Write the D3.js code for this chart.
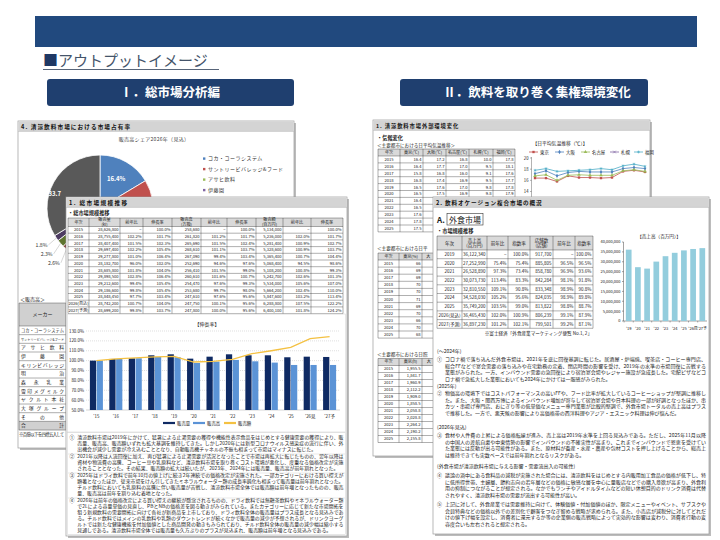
<!DOCTYPE html>
<html lang="ja">
<head>
<meta charset="utf-8">
<title>アウトプットイメージ</title>
<script src="https://cdn.jsdelivr.net/npm/d3@7/dist/d3.min.js"></script>
<style>
  body { margin: 0; background: #fff; }
  svg { display: block; }
  svg text { font-family: "Noto Sans CJK JP", "Noto Sans", sans-serif; }
</style>
</head>
<body>
<svg id="slide" width="720" height="540"></svg>
<script>
// ---------- データ ----------
// 4. 市場占有率（販売高シェア2026年見込）
var makerNames = ['コカ・コーラシステム', 'サントリービバレッジ&フード', 'アサヒ飲料', '伊藤園', 'キリンビバレッジ',
  '明治', '森永乳業', '雪印メグミルク', 'ヤクルト本社', '大塚グループ', 'その他'];
var shareValues = [16.4, 12.5, 8.6, 7.4, 6.9, 4.5, 3.3, 2.6, 2.3, 1.8, 33.7];

// 1. 総市場規模推移
var marketYears = ['2015', '2016', '2017', '2018', '2019', '2020', '2021', '2022', '2023', '2024', '2025', '2026(見込)', '2027(予測)'];
var marketTicks = ["'15", "'16", "'17", "'18", "'19", "'20", "'21", "'22", "'23", "'24", "'25", "'26見", "'27予"];
var volume = [28626800, 28755400, 28407400, 29697400, 29277800, 28182700, 28685800, 29898500, 29212600, 29186600, 28848450, 28742200, 28699200];
var volYoY = [null, 102.2, 101.5, 102.2, 101.0, 96.0, 101.8, 102.8, 99.4, 99.8, 97.7, 100.7, 99.8];
var volIdx = [100.0, 101.7, 102.3, 105.4, 106.4, 102.0, 104.0, 106.4, 105.4, 105.4, 103.4, 104.0, 103.7];
var amount = [258680, 261820, 265690, 268610, 267090, 252690, 256410, 260610, 254470, 253680, 247610, 247750, 247800];
var amtYoY = [null, 101.2, 101.5, 101.1, 99.4, 94.6, 101.5, 101.6, 97.6, 99.7, 97.6, 100.1, 100.0];
var amtIdx = [100.0, 101.7, 102.4, 103.7, 103.4, 97.6, 99.0, 100.7, 99.3, 98.0, 95.6, 95.6, 95.6];
var salesValue = [5134000, 5236000, 5281400, 5328600, 5365400, 5068400, 5108200, 5242700, 5534000, 5664200, 5847600, 6288800, 6400100];
var valYoY = [null, 102.0, 100.9, 100.9, 100.7, 94.5, 100.8, 102.6, 105.6, 102.4, 103.2, 107.5, 101.8];
var valIdx = [100.0, 101.7, 102.7, 103.7, 104.4, 98.6, 99.3, 101.3, 107.0, 110.0, 113.4, 122.2, 124.2];

// 1. 清涼飲料市場外部環境変化（気候）
var climateYears = ['2015', '2016', '2017', '2018', '2019', '2020', '2021', '2022', '2023', '2024', '2025'];
var cities = ['東京', '大阪', '名古屋', '札幌', '福岡'];
var tempTokyo = [16.4, 16.4, 15.8, 16.8, 16.5, 16.5, 16.4, 16.5, 17.6, 17.8, 17.5];
var tempOsaka = [17.2, 17.7, 16.8, 17.4, 17.6, 17.5, 17.5, 17.5, 18.1, 18.3, 18.1];
var tempNagoya = [16.8, 17.0, 16.0, 16.9, 17.0, 16.9, 16.9, 16.9, 17.7, 17.9, 17.6];
var tempSapporo = [10.0, 9.5, 9.1, 9.5, 9.8, 9.8, 10.1, 9.8, 10.9, 10.6, 10.5];
var tempFukuoka = [17.8, 18.1, 17.6, 17.7, 17.8, 17.9, 18.1, 17.9, 18.6, 18.9, 18.5];
var humidTokyo = [66, 69, 69, 70, 70, 71, 69, 70, 66, 70, 68];
var humidOsaka = [63, 66, 64, 65, 64, 66, 65, 64, 62, 65, 63];
var sunTokyo = [1955.5, 1841.7, 1960.9, 2112.2, 1909.0, 1858.5, 2058.8, 2028.8, 2264.2, 2190.2, 2155.8];
var sunOsaka = [2150.1, 2103.4, 2170.2, 2196.5, 2118.3, 2057.6, 2214.9, 2214.8, 2351.3, 2258.7, 2297.1];

// 2. 外食市場
var foodYears = ['2019', '2020', '2021', '2022', '2023', '2024', '2025', '2026(見込)', '2027(予測)'];
var foodTicks = ["'19", "'20", "'21", "'22", "'23", "'24", "'25", "'26見", "'27予"];
var foodSales = [36122340, 27252990, 26528890, 30073730, 32810550, 34528030, 35749200, 36465430, 36897230];
var foodSalesYoY = [null, 75.4, 97.3, 113.4, 109.1, 105.2, 103.5, 102.0, 101.2];
var foodSalesIdx = [100.0, 75.4, 73.4, 83.3, 90.8, 95.6, 99.0, 100.9, 102.1];
var foodStores = [917700, 885805, 858780, 842284, 833348, 824035, 813822, 806239, 799501];
var foodStoresYoY = [null, 96.5, 96.9, 98.1, 98.9, 98.9, 98.8, 99.1, 99.2];
var foodStoresIdx = [100.0, 96.5, 93.6, 91.8, 90.8, 89.8, 88.7, 87.9, 87.1];

// 本文
var marketNotes = [
  '清涼飲料市場は2019年にかけて、猛暑による止渇需要の獲得や機能性表示食品をはじめとする健康需要の獲得により、販売量、販売高、販売額いずれも拡大基調を維持してきた。しかし2020年には新型コロナウイルス感染症の流行に伴い、外出機会が減少し需要が冷え込むこととなり、自動販売機チャネルの不振も相まって市場はマイナスに転じた。',
  '2021年以降は人流回復に加え、再び猛暑による止渇需要が活況となったことで市場は再拡大に転じたものの、翌年以降は資材や物流費の高騰、コーヒー豆や乳原料など、清涼飲料市場を取り巻くコスト環境が悪化し、度重なる価格改定が実施されることとなった。その結果、販売額の拡大は続いたが、2023年、2024年には販売量、販売高が前年割れとなった。',
  '2025年はドライ飲料で前年10月の値上げに続き2年連続での価格改定が実施された。一部カテゴリーにおける買い控えが顕著となったほか、従来市場をけん引してきたミネラルウォーター類の成長率鈍化も相まって販売量は前年割れとなった。チルド飲料においても乳原料の高騰に伴い販売量が苦戦し、清涼飲料市場全体では販売額は前年増となったものの、販売量、販売高は前年を割り込む着地となった。',
  '2026年は前年の価格改定による買い控えの継続が懸念されるものの、ドライ飲料では無糖茶飲料やミネラルウォーター類で2Lによる容量単価の見直し、PBとNBの価格差を図る動きがみられている。またカテゴリーに応じて新たな市場開拓を狙う新規飲料の需要開拓に向けて各社が新商品を上市しており、ドライ飲料全体の販売量はプラス成長となる見込みである。チルド飲料ではメインの乳飲料や乳類のダウントレンドが続くなかで販売量の減少が予想されるが、ドリンクヨーグルトでは新たな健康機能を付加価値とした商品開発の動きもみられており、チルド飲料全体の販売量の減少幅は縮小する見通しである。清涼飲料市場全体では販売量も久方ぶりのプラスが見込まれ、販売額は前年増となる見込みである。'
];
var foodHeads = ['(〜2024年)', '(2025年)', '(2026年見込)', '(外食市場が清涼飲料市場に与える影響・需要流出入の可能性)'];
var foodNotes = [
  'コロナ禍で落ち込んだ外食市場は、2021年を底に回復基調に転じた。居酒屋・炉端焼、喫茶店・コーヒー専門店、総合FFなどで宴会需要の落ち込みや在宅勤務の定着、閉店時間の影響を受け、2019年の水準の市場回復に苦戦する業態がみられた。一方、インバウンド需要の急回復により宿泊宴会場やレジャー施設が急成長した。宅配ピザなどコロナ禍で急拡大した業態においても2024年にかけては一服感がみられた。',
  '物価高の環境下ではコストパフォーマンスの高いFFや、フード比率が拡大しているコーヒーショップが堅調に推移した。また、大阪・関西万博によるインバウンド増加が寄与して宿泊宴会場や日本料理の一部が好調となったほか、串カツ・串揚げ専門店、おにぎり等の低単価なメニュー専門業態が比較的堅調で、外食市場トータルの売上高はプラスで推移した。一方で、悪天候の影響により高価格帯の西洋料理やアジア・エスニック料理は伸び悩んだ。',
  '食材や人件費の上昇による価格転嫁が進み、売上高は2019年水準を上回る見込みである。ただし、2025年11月以降の中国人の渡航自粛や中東情勢の影響でインバウンドの不確実性が高まり、これまでインバウンドで恩恵を受けていた業態には反動が出る可能性がある。また、原材料が畜産・水産・農産や包材コストを押し上げることから、総売上は維持できても実数ベースでは前年割れとなるリスクがある。',
  '議論の渦中にある食料品の減税が実施された場合には、清涼飲料をはじめとする内販用加工食品の価格が低下し、特に低所得世帯、主婦層、節約志向の若年層などの価格に敏感な層を中心に量販店などでの購入意欲が高まり、外食利用の抑制につながることが想定される。なかでもランチやアイドルタイムなどの短い休憩目的のドリンク消費は代替されやすく、清涼飲料市場の需要が流出する可能性が高い。',
  '上記に対して、外食産業では需要維持に向けて、体験価値・付加価値のほか、限定メニューやイベント、サブスクや会員特典などの価格以外での差別化で顧客をつなぎ留める戦略が求められる。また、小売店が減税分に対してどれだけの値下げ幅を設定し、消費者に還元するか等の企業側の販売戦略によって実効的な影響は変わり、消費者行動の変容度合いも左右されると想定される。'
];

// ---------- 描画 ----------
var svg = d3.select('#slide');
var INK = '#222';
var MARKS = ['①', '②', '③', '④', '⑤'];
var fmtInt = d3.format(',');
var fmtPct = function (d) { return d == null ? '−' : d.toFixed(1) + '%'; };

svg.append('rect').attr('width', 720).attr('height', 540).attr('fill', '#fff');
var measurer = svg.append('text').attr('visibility', 'hidden');

function textWidth(str, fs) {
  measurer.attr('font-size', fs).text(str);
  return measurer.node().getComputedTextLength();
}

// 折り返し（簡易禁則つき）
function wrapLines(str, width, fs) {
  var lines = [], cur = '';
  Array.from(str).forEach(function (ch) {
    var over = textWidth(cur + ch, fs) > width;
    if (over && cur && '、。，．）」'.indexOf(ch) < 0) { lines.push(cur); cur = ch; }
    else cur += ch;
  });
  if (cur) lines.push(cur);
  return lines;
}

// 段落：maxLines 行に収まるまで文字を少しずつ小さくする
function paragraph(g, x, y, width, str, fs, lh, mark, maxLines) {
  var indent = mark ? fs * 1.6 : 0;
  var lines = wrapLines(str, width - indent, fs);
  while (maxLines && lines.length > maxLines && fs > 3.5) {
    fs -= 0.1;
    lines = wrapLines(str, width - indent, fs);
  }
  if (mark) g.append('text').attr('x', x).attr('y', y).attr('font-size', fs).attr('fill', INK).text(mark);
  lines.forEach(function (l, i) {
    var t = g.append('text').attr('x', x + indent).attr('y', y + i * lh)
      .attr('font-size', fs).attr('fill', INK).text(l);
    if (i < lines.length - 1) t.attr('textLength', width - indent).attr('lengthAdjust', 'spacing');
  });
  return lines.length;
}

// パネル（影・枠・見出し帯）
function panel(x, y, w, h, title, fs, ls) {
  var g = svg.append('g');
  g.append('rect').attr('x', x + 2).attr('y', y + 2).attr('width', w).attr('height', h).attr('fill', '#bcbcbc');
  g.append('rect').attr('x', x).attr('y', y).attr('width', w).attr('height', h)
    .attr('fill', '#fff').attr('stroke', '#9a9a9a').attr('stroke-width', 0.7);
  g.append('rect').attr('x', x + 0.4).attr('y', y + 0.4).attr('width', w - 0.8).attr('height', 10)
    .attr('fill', '#d4d4d4');
  g.append('line').attr('x1', x).attr('x2', x + w).attr('y1', y + 10.4).attr('y2', y + 10.4)
    .attr('stroke', '#b5b5b5').attr('stroke-width', 0.5);
  g.append('text').attr('x', x + 3).attr('y', y + 7.8)
    .attr('font-size', fs).attr('font-weight', 700).attr('letter-spacing', ls).attr('fill', '#111')
    .text(title);
  return g;
}

// 表
function table(g, cols, top, headH, rowH, head, rows, fs) {
  var left = cols[0], right = cols[cols.length - 1];
  var bottom = top + headH + rowH * rows.length;
  g.append('rect').attr('x', left).attr('y', top).attr('width', right - left).attr('height', headH)
    .attr('fill', '#d9d9d9');
  var grid = g.append('g').attr('stroke', '#1a1a1a').attr('stroke-width', 0.35);
  cols.forEach(function (c) {
    grid.append('line').attr('x1', c).attr('x2', c).attr('y1', top).attr('y2', bottom);
  });
  grid.append('line').attr('x1', left).attr('x2', right).attr('y1', top).attr('y2', top);
  d3.range(rows.length + 1).forEach(function (i) {
    var yy = top + headH + i * rowH;
    grid.append('line').attr('x1', left).attr('x2', right).attr('y1', yy).attr('y2', yy);
  });
  head.forEach(function (h, j) {
    var parts = h.split('\n');
    var cx = (cols[j] + cols[j + 1]) / 2;
    var t = g.append('text').attr('text-anchor', 'middle').attr('font-size', fs).attr('fill', INK);
    parts.forEach(function (p, k) {
      t.append('tspan').attr('x', cx)
        .attr('y', top + headH / 2 + (k - (parts.length - 1) / 2) * fs * 1.1 + fs * 0.36).text(p);
    });
  });
  rows.forEach(function (r, i) {
    var cy = top + headH + i * rowH + rowH / 2 + fs * 0.36;
    r.forEach(function (v, j) {
      if (j >= cols.length - 1) return;
      g.append('text')
        .attr('x', j === 0 ? (cols[0] + cols[1]) / 2 : cols[j + 1] - 1.5)
        .attr('y', cy)
        .attr('text-anchor', j === 0 ? 'middle' : 'end')
        .attr('font-size', fs).attr('fill', INK).text(v);
    });
  });
  return bottom;
}

// ---- 見出し ----
svg.append('rect').attr('x', 35).attr('y', 16).attr('width', 662).attr('height', 31).attr('fill', '#21497e');
var ttl = svg.append('text').attr('x', 43).attr('y', 66).attr('font-size', 15).attr('fill', '#44546a');
ttl.append('tspan').attr('fill', '#1f3864').text('■');
ttl.append('tspan').text('アウトプットイメージ');
svg.append('line').attr('x1', 43).attr('x2', 219).attr('y1', 69.5).attr('y2', 69.5)
  .attr('stroke', '#44546a').attr('stroke-width', 0.9);

[{ x: 47, w: 247, cx: 170, label: 'Ⅰ．総市場分析編' },
 { x: 400, w: 248, cx: 537, label: 'Ⅱ．飲料を取り巻く集権環境変化' }].forEach(function (b) {
  svg.append('rect').attr('x', b.x).attr('y', 79).attr('width', b.w).attr('height', 27).attr('rx', 3)
    .attr('fill', '#1f3f6f');
  svg.append('text').attr('x', b.cx).attr('y', 97).attr('text-anchor', 'middle')
    .attr('font-size', 12.5).attr('font-weight', 700).attr('fill', '#fff').text(b.label);
});

// ---- 4. 市場占有率（背面左） ----
var pp = panel(18, 121, 276, 327, '4. 清涼飲料市場における市場占有率', 5.6, 1.1);
pp.append('text').attr('x', 154).attr('y', 141).attr('text-anchor', 'middle')
  .attr('font-size', 5).attr('fill', '#444').attr('letter-spacing', 0.3).text('販売高シェア2026年（見込）');

var shareColors = ['#4f81bd', '#c0504d', '#9bbb59', '#8064a2', '#4bacc6', '#f79646',
  '#2c4d75', '#772c2a', '#5f7530', '#4d3b62', '#595959'];
var R = 53;
var pieG = pp.append('g').attr('transform', 'translate(100,208)');
var arcs = d3.pie().sort(null).value(function (d) { return d; })(shareValues);
var arc = d3.arc().innerRadius(0).outerRadius(R);
pieG.selectAll('path').data(arcs).join('path')
  .attr('d', arc).attr('fill', function (d, i) { return shareColors[i]; })
  .attr('stroke', '#fff').attr('stroke-width', 0.8);

arcs.forEach(function (d, i) {
  if (d.data < 3) return;
  var mid = (d.startAngle + d.endAngle) / 2;
  var last = i === arcs.length - 1;
  var rr = last ? R * 0.84 : R * 0.62;
  var ang = last ? mid - 0.2 : mid;
  pieG.append('text').attr('x', Math.sin(ang) * rr).attr('y', -Math.cos(ang) * rr + 2)
    .attr('text-anchor', 'middle').attr('font-size', 6).attr('font-weight', 700).attr('fill', '#fff')
    .text(d.data.toFixed(1) + '%');
});
// 小さいスライスは外側ラベル（下から順に重なりを避ける）
var lastY = -Infinity;
arcs.filter(function (d) { return d.data < 3; }).reverse().forEach(function (d) {
  var mid = (d.startAngle + d.endAngle) / 2;
  var px = Math.sin(mid) * R, py = -Math.cos(mid) * R;
  var lx = Math.sin(mid) * (R + 12), ly = -Math.cos(mid) * (R + 12);
  if (ly < lastY + 9) ly = lastY + 9;
  lastY = ly;
  pieG.append('polyline').attr('points', [[px, py], [lx + 2, ly]].join(' '))
    .attr('fill', 'none').attr('stroke', '#999').attr('stroke-width', 0.4);
  pieG.append('text').attr('x', lx + 1).attr('y', ly + 2).attr('text-anchor', 'end')
    .attr('font-size', 5.2).attr('fill', '#333').text(d.data.toFixed(1) + '%');
});

var legG = pp.append('g');
makerNames.forEach(function (n, i) {
  var ly = 160 + i * 10.5;
  legG.append('rect').attr('x', 203).attr('y', ly - 2.6).attr('width', 2.4).attr('height', 2.4)
    .attr('fill', shareColors[i]);
  legG.append('text').attr('x', 208).attr('y', ly).attr('font-size', 5).attr('letter-spacing', 0.5)
    .attr('fill', '#333').text(n);
});

// メーカー別表（左端のみ見える）
pp.append('text').attr('x', 20).attr('y', 301).attr('font-size', 5).attr('fill', INK).text('＜販売高＞');
var mkCols = [19, 66, 100, 130];
var mkTop = 303, mkHeadH = 23, mkRowH = 8.67;
var mkLabels = makerNames.concat(['合計']);
pp.append('rect').attr('x', 19).attr('y', mkTop).attr('width', 111).attr('height', mkHeadH).attr('fill', '#d0d0d0');
pp.append('rect').attr('x', 19).attr('y', mkTop + mkHeadH + mkRowH * 11).attr('width', 111).attr('height', mkRowH)
  .attr('fill', '#d0d0d0');
var mkGrid = pp.append('g').attr('stroke', '#333').attr('stroke-width', 0.4);
mkCols.forEach(function (c) {
  mkGrid.append('line').attr('x1', c).attr('x2', c).attr('y1', mkTop).attr('y2', mkTop + mkHeadH + mkRowH * 12);
});
mkGrid.append('line').attr('x1', 19).attr('x2', 130).attr('y1', mkTop).attr('y2', mkTop);
d3.range(13).forEach(function (i) {
  var yy = mkTop + mkHeadH + i * mkRowH;
  mkGrid.append('line').attr('x1', 19).attr('x2', 130).attr('y1', yy).attr('y2', yy);
});
pp.append('text').attr('x', 42.5).attr('y', mkTop + mkHeadH / 2 + 1.8).attr('text-anchor', 'middle')
  .attr('font-size', 5).attr('fill', INK).text('メーカー');
mkLabels.forEach(function (n, i) {
  var fs = Math.min(4.8, 4.8 * 42 / textWidth(n, 4.8));
  pp.append('text').attr('x', 21).attr('y', mkTop + mkHeadH + i * mkRowH + mkRowH / 2 + 1.7)
    .attr('font-size', fs).attr('fill', INK).text(n)
    .attr('textLength', 43).attr('lengthAdjust', 'spacing');
});
pp.append('text').attr('x', 19).attr('y', 436).attr('font-size', 4.4).attr('fill', INK)
  .attr('textLength', 45.5).attr('lengthAdjust', 'spacing').text('※百億以下を四捨五入して');

// ---- 1. 清涼飲料市場外部環境変化（背面右） ----
var br = panel(373, 120, 277, 336, '1. 清涼飲料市場外部環境変化', 5.3, 0.9);
br.append('text').attr('x', 377).attr('y', 140).attr('font-size', 5.2).attr('font-weight', 700)
  .attr('fill', INK).text('・気候変化');
br.append('text').attr('x', 377).attr('y', 146.8).attr('font-size', 4.6).attr('fill', INK)
  .text('＜主要都市における日平均気温推移＞');
var tempSeries = [tempTokyo, tempOsaka, tempNagoya, tempSapporo, tempFukuoka];
table(br, [378, 400, 423, 446, 469, 493, 515], 149, 7, 6.9,
  ['年次', '東京(℃)', '大阪(℃)', '名古屋(℃)', '札幌(℃)', '福岡(℃)'],
  climateYears.map(function (yr, i) {
    return [yr].concat(tempSeries.map(function (s) { return s[i].toFixed(1); }));
  }), 4.1);

br.append('text').attr('x', 377).attr('y', 249.5).attr('font-size', 4.6).attr('fill', INK)
  .text('＜主要都市における日平均湿度推移＞');
table(br, [378, 399, 422, 445, 468], 253, 7, 7.1,
  ['年次', '東京(%)', '大阪(%)', '名古屋(%)'],
  climateYears.map(function (yr, i) { return [yr, String(humidTokyo[i]), String(humidOsaka[i])]; }), 4.1);

br.append('text').attr('x', 377).attr('y', 355.5).attr('font-size', 4.6).attr('fill', INK)
  .text('＜主要都市における日照時間推移＞');
var fmtSun = d3.format(',.1f');
table(br, [378, 399, 422, 445, 468], 358.5, 7, 7,
  ['年次', '東京(h)', '大阪(h)', '名古屋(h)'],
  climateYears.map(function (yr, i) { return [yr, fmtSun(sunTokyo[i]), fmtSun(sunOsaka[i])]; }), 4.1);

// 気温折れ線
var lc = br.append('g');
var cityColors = ['#c0504d', '#4f81bd', '#9bbb59', '#8064a2', '#4bacc6'];
var citySymbols = [d3.symbolSquare, d3.symbolDiamond, d3.symbolTriangle, d3.symbolX || d3.symbolCross, d3.symbolAsterisk || d3.symbolStar];
var strokeSym = [false, false, false, true, true];
lc.append('text').attr('x', 560).attr('y', 145).attr('text-anchor', 'middle').attr('font-size', 4.8)
  .attr('fill', INK).text('【日平均気温推移（℃）】');
var lx = d3.scalePoint().domain(climateYears).range([535, 645]);
var ly = d3.scaleLinear().domain([8, 20]).range([225, 158]);
lc.append('line').attr('x1', 531.5).attr('x2', 531.5).attr('y1', 157).attr('y2', 226)
  .attr('stroke', '#666').attr('stroke-width', 0.5);
ly.ticks(6).forEach(function (t) {
  lc.append('line').attr('x1', 530).attr('x2', 531.5).attr('y1', ly(t)).attr('y2', ly(t))
    .attr('stroke', '#666').attr('stroke-width', 0.5);
  lc.append('text').attr('x', 528.5).attr('y', ly(t) + 1.5).attr('text-anchor', 'end')
    .attr('font-size', 4.2).attr('fill', INK).text(t);
});
function marker(g, i, x, y) {
  var p = g.append('path').attr('d', d3.symbol().type(citySymbols[i]).size(5.5)())
    .attr('transform', 'translate(' + x + ',' + y + ')');
  if (strokeSym[i]) p.attr('fill', 'none').attr('stroke', cityColors[i]).attr('stroke-width', 0.6);
  else p.attr('fill', cityColors[i]);
}
tempSeries.forEach(function (s, i) {
  lc.append('path')
    .attr('d', d3.line().x(function (d, k) { return lx(climateYears[k]); }).y(function (d) { return ly(d); })(s))
    .attr('fill', 'none').attr('stroke', cityColors[i]).attr('stroke-width', 0.8);
  s.forEach(function (d, k) { marker(lc, i, lx(climateYears[k]), ly(d)); });
});
[529, 555, 581, 610, 634].forEach(function (x, i) {
  lc.append('line').attr('x1', x).attr('x2', x + 9).attr('y1', 152).attr('y2', 152)
    .attr('stroke', cityColors[i]).attr('stroke-width', 0.8);
  marker(lc, i, x + 4.5, 152);
  lc.append('text').attr('x', x + 11).attr('y', 153.6).attr('font-size', 4.4).attr('fill', INK).text(cities[i]);
});

// ---- 1. 総市場規模推移（前面左） ----
var fl = panel(66, 197, 281, 339, '1. 総市場規模推移', 5.6, 1.4);
fl.append('text').attr('x', 68).attr('y', 215).attr('font-size', 5.2).attr('font-weight', 700)
  .attr('fill', INK).text('・総市場規模推移');
table(fl, [68, 89, 120, 143, 172, 201, 227, 256, 283, 311, 343], 218, 8.5, 6.7,
  ['年次', '販売量\n(kl)', '前年比', '伸長率', '販売高\n(万箱)', '前年比', '伸長率', '販売額\n(百万円)', '前年比', '伸長率'],
  marketYears.map(function (yr, i) {
    return [yr, fmtInt(volume[i]), fmtPct(volYoY[i]), fmtPct(volIdx[i]), fmtInt(amount[i]),
      fmtPct(amtYoY[i]), fmtPct(amtIdx[i]), fmtInt(salesValue[i]), fmtPct(valYoY[i]), fmtPct(valIdx[i])];
  }), 4.1);

// 伸長率チャート
var cg = fl.append('g');
cg.append('rect').attr('x', 67.5).attr('y', 314).attr('width', 278).attr('height', 118)
  .attr('fill', 'none').attr('stroke', '#cfcfcf').attr('stroke-width', 0.5);
cg.append('text').attr('x', 207).attr('y', 326).attr('text-anchor', 'middle').attr('font-size', 5)
  .attr('fill', INK).text('【伸長率】');
var gx = d3.scaleBand().domain(marketTicks).range([86, 340]).paddingInner(0.33).paddingOuter(0.2);
var gx1 = d3.scaleBand().domain(['vol', 'amt']).range([0, gx.bandwidth()]).paddingInner(0.08);
var gy = d3.scaleLinear().domain([50, 130]).range([410, 331]);
gy.ticks(8).forEach(function (t) {
  cg.append('line').attr('x1', 86).attr('x2', 340).attr('y1', gy(t)).attr('y2', gy(t))
    .attr('stroke', t === 50 ? '#a0a0a0' : '#b8b8b8').attr('stroke-width', 0.45)
    .attr('stroke-dasharray', t === 50 ? null : '1,1');
  cg.append('text').attr('x', 84).attr('y', gy(t) + 1.6).attr('text-anchor', 'end')
    .attr('font-size', 4.4).attr('fill', INK).text(t.toFixed(1) + '%');
});
var barCols = { vol: '#0f2a63', amt: '#5b93d6' };
marketTicks.forEach(function (k, i) {
  [['vol', volIdx[i]], ['amt', amtIdx[i]]].forEach(function (s) {
    cg.append('rect').attr('x', gx(k) + gx1(s[0])).attr('y', gy(s[1]))
      .attr('width', gx1.bandwidth()).attr('height', gy(50) - gy(s[1])).attr('fill', barCols[s[0]]);
  });
  cg.append('text').attr('x', gx(k) + gx.bandwidth() / 2).attr('y', 418).attr('text-anchor', 'middle')
    .attr('font-size', 4.4).attr('fill', INK).text(k);
});
cg.append('path')
  .attr('d', d3.line().x(function (d, i) { return gx(marketTicks[i]) + gx.bandwidth() / 2; })
    .y(function (d) { return gy(d); })(valIdx))
  .attr('fill', 'none').attr('stroke', '#f4c142').attr('stroke-width', 1.3);
[['販売量', barCols.vol, 163], ['販売高', barCols.amt, 193], ['販売額', '#f4c142', 224]].forEach(function (l) {
  cg.append('line').attr('x1', l[2]).attr('x2', l[2] + 12).attr('y1', 423).attr('y2', 423)
    .attr('stroke', l[1]).attr('stroke-width', 2.2);
  cg.append('text').attr('x', l[2] + 14).attr('y', 424.6).attr('font-size', 4.4).attr('fill', INK).text(l[0]);
});

// 本文（前面左）
var tg = fl.append('g');
tg.append('rect').attr('x', 67.5).attr('y', 432.5).attr('width', 278).attr('height', 102)
  .attr('fill', 'none').attr('stroke', '#cfcfcf').attr('stroke-width', 0.5);
var leftMax = [3, 3, 4, 6];
var py = 438.5;
marketNotes.forEach(function (p, i) {
  var n = paragraph(tg, 69.5, py, 274, p, 4.9, 6, MARKS[i], leftMax[i]);
  var last = py + (n - 1) * 6;
  if (i < marketNotes.length - 1) {
    tg.append('line').attr('x1', 68).attr('x2', 345).attr('y1', last + 3.5).attr('y2', last + 3.5)
      .attr('stroke', '#d0d0d0').attr('stroke-width', 0.5);
  }
  py = last + 7;
});

// ---- 2. 飲料オケージョン複合市場の概況（前面右） ----
var fr = panel(433, 197, 276, 337, '2. 飲料オケージョン複合市場の概況', 5.6, 0.9);
fr.append('text').attr('x', 437).attr('y', 223).attr('font-size', 8).attr('font-weight', 700)
  .attr('fill', INK).text('A.');
fr.append('rect').attr('x', 447).attr('y', 213.5).attr('width', 36).attr('height', 11.5)
  .attr('fill', 'none').attr('stroke', '#333').attr('stroke-width', 0.6);
fr.append('text').attr('x', 449).attr('y', 223).attr('font-size', 8).attr('fill', INK).text('外食市場');
fr.append('text').attr('x', 437).attr('y', 233).attr('font-size', 5.2).attr('font-weight', 700)
  .attr('fill', INK).text('・市場規模推移');
table(fr, [437, 462, 487, 508, 530, 553, 575, 593], 236, 14, 8.7,
  ['年次', '売上高\n(百万円)', '前年比', '指数率', '店舗数\n(店舗)', '前年比', '指数率'],
  foodYears.map(function (yr, i) {
    return [yr, fmtInt(foodSales[i]), fmtPct(foodSalesYoY[i]), fmtPct(foodSalesIdx[i]),
      fmtInt(foodStores[i]), fmtPct(foodStoresYoY[i]), fmtPct(foodStoresIdx[i])];
  }), 4.5);
fr.append('text').attr('x', 592).attr('y', 334.5).attr('text-anchor', 'end').attr('font-size', 4.6)
  .attr('fill', INK).text('※富士経済「外食産業マーケティング便覧 No.1, 2」');

// 売上高棒グラフ
var sc = fr.append('g');
sc.append('text').attr('x', 659).attr('y', 238).attr('text-anchor', 'middle').attr('font-size', 4.6)
  .attr('fill', INK).text('【売上高（百万円）】');
var sx = d3.scaleBand().domain(foodTicks).range([624, 707]).paddingInner(0.38).paddingOuter(0.2);
var sy = d3.scaleLinear().domain([0, 40000000]).range([321, 242]);
sc.append('line').attr('x1', 623.5).attr('x2', 623.5).attr('y1', 242).attr('y2', 321)
  .attr('stroke', '#444').attr('stroke-width', 0.5);
sc.append('line').attr('x1', 623.5).attr('x2', 707).attr('y1', 321).attr('y2', 321)
  .attr('stroke', '#444').attr('stroke-width', 0.5);
sy.ticks(8).forEach(function (t) {
  sc.append('line').attr('x1', 622).attr('x2', 623.5).attr('y1', sy(t)).attr('y2', sy(t))
    .attr('stroke', '#444').attr('stroke-width', 0.5);
  sc.append('text').attr('x', 620.5).attr('y', sy(t) + 1.4).attr('text-anchor', 'end')
    .attr('font-size', 4).attr('fill', INK).text(fmtInt(t));
});
sc.selectAll('rect.bar').data(foodSales).join('rect').attr('class', 'bar')
  .attr('x', function (d, i) { return sx(foodTicks[i]); })
  .attr('y', function (d) { return sy(d); })
  .attr('width', sx.bandwidth())
  .attr('height', function (d) { return sy(0) - sy(d); })
  .attr('fill', '#93cddd');
foodTicks.forEach(function (k) {
  var tx = sx(k) - sx.step() * sx.paddingInner() / 2;
  sc.append('line').attr('x1', tx).attr('x2', tx)
    .attr('y1', 321).attr('y2', 322.5).attr('stroke', '#444').attr('stroke-width', 0.4);
  sc.append('text').attr('x', sx(k) + sx.bandwidth() / 2).attr('y', 329.5).attr('text-anchor', 'middle')
    .attr('font-size', 4).attr('fill', INK).text(k);
});

// 本文（前面右）：見出しと段落の基線位置
var ft = fr.append('g');
var headY = [353, 388, 429, 468];
var paraY = [361, 395, 437, 477, 506];
foodHeads.forEach(function (h, i) {
  ft.append('text').attr('x', 437).attr('y', headY[i]).attr('font-size', 5).attr('fill', INK).text(h);
});
foodNotes.forEach(function (p, i) {
  paragraph(ft, 437, paraY[i], 269, p, 5, 6.7, MARKS[i], 4);
});

// 背面パネルの文字：前面パネルに隠れるものは消し、一部だけ見えるものは見える分まで切り詰める
var fronts = [[66, 197, 349, 538], [433, 197, 711, 536]];
function crosses(b, f) { return b.right > f[0] && b.left < f[2] && b.bottom > f[1] && b.top < f[3]; }
function within(b, f) {
  return b.left >= f[0] - 1.5 && b.right <= f[2] + 1.5 && b.top >= f[1] - 1.5 && b.bottom <= f[3] + 1.5;
}
[pp, br].forEach(function (g) {
  g.selectAll('text').each(function () {
    var node = this, b = node.getBoundingClientRect();
    var f = fronts.find(function (r) { return crosses(b, r); });
    if (!f) return;
    if (within(b, f)) { node.remove(); return; }
    if (b.left >= f[0]) return;
    var shift = b.left - node.getBBox().x;
    var parts = node.querySelector('tspan') ? Array.from(node.querySelectorAll('tspan')) : [node];
    var lefts = parts.map(function (p) { return p.getBoundingClientRect().left - shift; });
    node.setAttribute('text-anchor', 'start');
    node.removeAttribute('textLength');
    parts.forEach(function (p, k) {
      p.setAttribute('x', lefts[k]);
      var s = p.textContent;
      while (s.length && p.getBoundingClientRect().right > f[0] - 0.5) {
        s = s.slice(0, -1);
        p.textContent = s;
      }
    });
    if (!node.textContent.length) node.remove();
  });
});
measurer.remove();
</script>
</body>
</html>
